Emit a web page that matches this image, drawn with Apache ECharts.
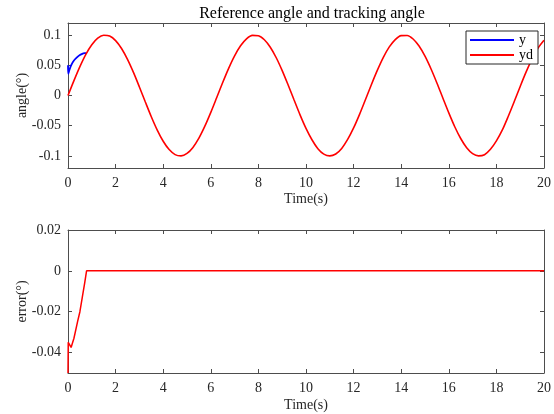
<!DOCTYPE html>
<html>
<head>
<meta charset="utf-8">
<script src="https://cdn.jsdelivr.net/npm/echarts@6/dist/echarts.min.js"></script>
<style>
  html, body { margin: 0; padding: 0; background: #fff; }
  #main { width: 554px; height: 414px; }
</style>
</head>
<body>
<div id="main"></div>
<script>
// reference angle yd, read every 0.25 s
const ydTime = [0, 0.25, 0.5, 0.75, 1, 1.25, 1.5, 1.75, 2, 2.25, 2.5, 2.75, 3, 3.25, 3.5, 3.75,
  4, 4.25, 4.5, 4.75, 5, 5.25, 5.5, 5.75, 6, 6.25, 6.5, 6.75, 7, 7.25, 7.5, 7.75,
  8, 8.25, 8.5, 8.75, 9, 9.25, 9.5, 9.75, 10, 10.25, 10.5, 10.75, 11, 11.25, 11.5, 11.75,
  12, 12.25, 12.5, 12.75, 13, 13.25, 13.5, 13.75, 14, 14.25, 14.5, 14.75, 15, 15.25, 15.5, 15.75,
  16, 16.25, 16.5, 16.75, 17, 17.25, 17.5, 17.75, 18, 18.25, 18.5, 18.75, 19, 19.25, 19.5, 19.75, 20];
const ydValue = [0, 0.0247, 0.0479, 0.0682, 0.0841, 0.0949, 0.0997, 0.0984, 0.0909, 0.0778, 0.0598, 0.0382,
  0.0141, -0.0108, -0.0351, -0.0572, -0.0757, -0.0895, -0.0978, -0.0999, -0.0959, -0.0859, -0.0706, -0.0508,
  -0.0279, -0.0033, 0.0215, 0.0450, 0.0657, 0.0823, 0.0938, 0.0995, 0.0989, 0.0922, 0.0799, 0.0625,
  0.0412, 0.0173, -0.0075, -0.0320, -0.0544, -0.0732, -0.0880, -0.0971, -0.1000, -0.0968, -0.0876, -0.0727,
  -0.0537, -0.0312, -0.0066, 0.0183, 0.0420, 0.0632, 0.0804, 0.0926, 0.0991, 0.0994, 0.0935, 0.0818,
  0.0650, 0.0442, 0.0207, -0.0042, -0.0288, -0.0517, -0.0712, -0.0865, -0.0961, -0.0999, -0.0980, -0.0891,
  -0.0751, -0.0570, -0.0343, -0.0100, 0.0150, 0.0390, 0.0606, 0.0784, 0.0913];

// tracking angle y, start transient (afterwards it lies under yd)
const yTime = [0, 0.01, 0.05, 0.13, 0.25, 0.4, 0.5, 0.6, 0.7, 0.78];
const yValue = [0.05, 0.036, 0.041, 0.05, 0.058, 0.064, 0.067, 0.069, 0.070, 0.0703];

// tracking error
const errTime = [0, 0.01, 0.13, 0.25, 0.4, 0.5, 0.6, 0.7, 0.78, 20];
const errValue = [-0.05, -0.035, -0.0375, -0.033, -0.025, -0.02, -0.013, -0.006, 0, 0];

const angleTicks = [-0.1, -0.05, 0, 0.05, 0.1];
const errTicks = [-0.04, -0.02, 0, 0.02];

const zip = (a, b) => a.map((t, i) => [t, b[i]]);
const ydData = zip(ydTime, ydValue);
const yData = zip(yTime, yValue);
const errData = zip(errTime, errValue);

const FONT = 'Liberation Serif';
const AX = '#4d4d4d';

function xAx(grid, top, name, gap) {
  return {
    type: 'value', gridIndex: grid, min: 0, max: 20, interval: 2,
    position: top ? 'top' : 'bottom',
    name: top ? '' : name, nameLocation: 'middle', nameGap: gap,
    nameTextStyle: { fontFamily: FONT, fontSize: 14, color: '#262626' },
    axisLine: { show: true, onZero: false, lineStyle: { color: AX, width: 1 } },
    axisTick: { show: true, inside: true, length: 4, lineStyle: { color: AX } },
    axisLabel: { show: !top, fontFamily: FONT, fontSize: 14, color: '#262626', margin: 8 },
    splitLine: { show: false }
  };
}

function yAx(grid, right, min, max, ticks, name) {
  return {
    type: 'value', gridIndex: grid, min: min, max: max,
    position: right ? 'right' : 'left',
    name: right ? '' : name, nameLocation: 'middle', nameGap: 39,
    nameMoveOverlap: false,
    nameTextStyle: { fontFamily: FONT, fontSize: 14, color: '#262626' },
    axisLine: { show: true, onZero: false, lineStyle: { color: AX, width: 1 } },
    axisTick: { show: true, inside: true, length: 4, customValues: ticks, lineStyle: { color: AX } },
    axisLabel: { show: !right, customValues: ticks, fontFamily: FONT, fontSize: 14, color: '#262626', margin: 7 },
    splitLine: { show: false }
  };
}

const chart = echarts.init(document.getElementById('main'));
chart.setOption({
  animation: false,
  backgroundColor: '#fff',
  title: {
    text: 'Reference angle and tracking angle',
    left: 307, top: 1, textAlign: 'center',
    textStyle: { fontFamily: FONT, fontSize: 16, fontWeight: 'normal', color: '#000' }
  },
  legend: {
    data: [{ name: 'y', icon: 'rect' }, { name: 'yd', icon: 'rect' }],
    orient: 'vertical',
    left: 466, top: 31,
    padding: [2, 5, 2, 4],
    itemWidth: 44, itemHeight: 2, itemGap: 1,
    backgroundColor: '#fff',
    borderColor: '#262626', borderWidth: 1,
    textStyle: { fontFamily: FONT, fontSize: 14, color: '#000' }
  },
  grid: [
    { left: 68, right: 7, top: 23, height: 145 },
    { left: 68, right: 7, top: 230, height: 143 }
  ],
  xAxis: [
    xAx(0, false, 'Time(s)', 24), xAx(0, true),
    xAx(1, false, 'Time(s)', 25), xAx(1, true)
  ],
  yAxis: [
    yAx(0, false, -0.12, 0.12, angleTicks, 'angle(°)'), yAx(0, true, -0.12, 0.12, angleTicks),
    yAx(1, false, -0.05, 0.02, errTicks, 'error(°)'), yAx(1, true, -0.05, 0.02, errTicks)
  ],
  series: [
    {
      name: 'y', type: 'line', xAxisIndex: 0, yAxisIndex: 0,
      data: yData, symbol: 'none', smooth: 0.3,
      lineStyle: { color: '#0000ff', width: 1.8 }, itemStyle: { color: '#0000ff' }
    },
    {
      name: 'yd', type: 'line', xAxisIndex: 0, yAxisIndex: 0,
      data: ydData, symbol: 'none', smooth: 0.3,
      lineStyle: { color: '#ff0000', width: 1.6 }, itemStyle: { color: '#ff0000' }
    },
    {
      name: 'error', type: 'line', xAxisIndex: 2, yAxisIndex: 2,
      data: errData, symbol: 'none', smooth: false,
      lineStyle: { color: '#ff0000', width: 1.5 }, itemStyle: { color: '#ff0000' }
    }
  ]
});
</script>
</body>
</html>
